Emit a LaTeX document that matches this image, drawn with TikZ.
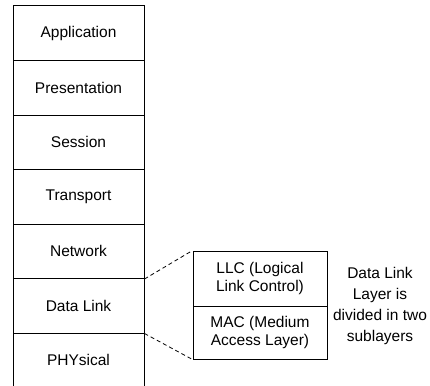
\documentclass[tikz,border=0pt]{standalone}
\usepackage{fontspec}
\setmainfont{Liberation Sans}
\usepackage{tikz}

\tikzset{
  layer/.style = {draw, line width=1pt, minimum width=131pt, minimum height=54.5pt, inner sep=0pt, font=\fontsize{15.5}{18}\selectfont},
  sublayer/.style = {draw, line width=1pt, minimum width=134pt, inner sep=0pt, align=center, font=\fontsize{15.5}{18}\selectfont},
  linkline/.style = {line width=0.8pt, dash pattern=on 4pt off 3pt}
}

\begin{document}
\begin{tikzpicture}[x=1pt, y=-1pt]
\useasboundingbox (0,0) rectangle (430,385);
\clip (0,0) rectangle (430,385);
% the seven layers
\node[layer] (app) at (78.5,33.25) {Application};
\node[layer] (pres) at (78.5,87.75) {Presentation};
\node[layer] (sess) at (78.5,142.25) {Session};
\node[layer] (trans) at (78.5,196.75) {Transport};
\node[layer] (net) at (78.5,251.25) {Network};
\node[layer] (dl) at (78.5,305.75) {Data Link};
\node[layer] (phy) at (78.5,360.25) {PHYsical};
% the two sublayers
\node[sublayer, minimum height=55pt] (llc) at (260,278.5) {LLC (Logical\\Link Control)};
\node[sublayer, minimum height=53pt] (mac) at (260,332.5) {MAC (Medium\\Access Layer)};
\draw[linkline] (net.south east) -- (llc.north west);
\draw[linkline] (dl.south east) -- (mac.south west);
\node[align=center, font=\fontsize{15.5}{21}\selectfont] (note) at (380,306) {Data Link\\Layer is\\divided in two\\sublayers};
\end{tikzpicture}
\end{document}
